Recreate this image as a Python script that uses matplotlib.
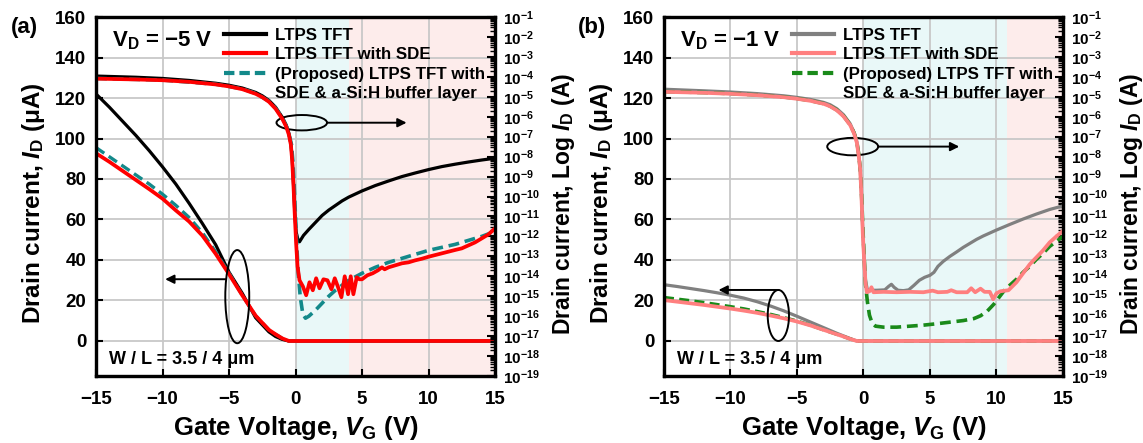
import numpy as np
import matplotlib
matplotlib.use("Agg")
import matplotlib.pyplot as plt
from matplotlib.lines import Line2D
from matplotlib.patches import Ellipse
from matplotlib.ticker import LogLocator, NullFormatter

plt.rcParams['font.family'] = 'Liberation Sans'
plt.rcParams['font.weight'] = 'bold'
plt.rcParams['axes.labelweight'] = 'bold'
plt.rcParams['mathtext.fontset'] = 'custom'
plt.rcParams['mathtext.rm'] = 'Liberation Sans:bold'
plt.rcParams['mathtext.it'] = 'Liberation Sans:italic:bold'
plt.rcParams['mathtext.bf'] = 'Liberation Sans:bold'
plt.rcParams['mathtext.default'] = 'rm'

# gate voltage grid for the linear-scale curves (both panels)
vg_lin = [-15, -14, -13, -12, -11, -10, -9, -8, -7, -6, -5, -4, -3, -2, -1.5, -1, -0.5, 15]

# ---------------- (a) V_D = -5 V ----------------
a_tft_lin = [122, 115.5, 108.5, 101.5, 94, 86, 77.5, 68, 58, 47.5, 34, 23.5, 11.5, 4.5, 2.2, 0.8, 0, 0]
a_sde_lin = [92.7, 88.5, 84, 79.5, 75, 70.3, 64.5, 59, 52, 43, 33, 22.5, 12.5, 5.5, 3.3, 1.3, 0, 0]
a_buf_lin = [95.5, 91, 86.5, 82, 77.5, 72.5, 67, 61, 53.5, 44, 33.5, 22.5, 12.5, 5.5, 3.3, 1.3, 0, 0]

# log10 of drain current (A)
a_tft_vg = [-15, -12, -10, -8, -6, -5, -4, -3, -2.5, -2, -1.5, -1, -0.7, -0.5, -0.35, -0.25,
            -0.15, -0.05, 0.05, 0.2, 0.3, 0.6, 1, 1.5, 2, 2.5, 3, 3.5, 4, 5, 6, 7, 8, 9, 10,
            11, 12, 13, 14, 15]
a_tft_log = [-3.96, -4.02, -4.08, -4.18, -4.32, -4.42, -4.56, -4.78, -4.95, -5.18, -5.52, -6.02,
             -6.42, -6.82, -7.35, -8.1, -9.4, -10.9, -11.8, -12.2, -12.27, -11.95, -11.65, -11.3,
             -10.95, -10.68, -10.45, -10.22, -10.03, -9.72, -9.45, -9.22, -9.0, -8.82, -8.65,
             -8.5, -8.38, -8.27, -8.17, -8.08]

a_sde_vg = [-15, -12, -10, -8, -6, -5, -4, -3, -2.5, -2, -1.5, -1, -0.7, -0.5, -0.35, -0.25,
            -0.15, -0.05, 0.05, 0.15, 0.3, 0.55, 0.8, 1.05, 1.3, 1.55, 1.8, 2.1, 2.4, 2.7,
            2.95, 3.2, 3.45, 3.7, 3.95, 4.15, 4.35, 4.6, 4.8, 5.0, 5.4, 5.8, 6.2, 6.5, 6.7, 7,
            7.5, 8, 8.5, 9, 9.5, 10, 11, 12, 12.5, 13, 13.5, 14, 14.5, 15]
a_sde_log = [-4.09, -4.13, -4.17, -4.25, -4.38, -4.48, -4.62, -4.85, -5.02, -5.25, -5.6, -6.1,
             -6.5, -6.9, -7.4, -8.2, -9.5, -11.0, -12.4, -13.5, -14.2, -14.5, -14.95, -14.3,
             -14.7, -14.1, -14.6, -14.15, -14.2, -14.65, -14.1, -14.55, -15.05, -14.0, -14.9,
             -14.0, -14.9, -14.05, -14.15, -14.15, -13.95, -13.85, -13.7, -13.55, -13.65,
             -13.55, -13.45, -13.35, -13.3, -13.2, -13.12, -13.02, -12.85, -12.68, -12.6,
             -12.45, -12.3, -12.1, -11.9, -11.6]

a_buf_vg = [-15, -10, -6, -4, -3, -2, -1.5, -1, -0.7, -0.5, -0.3, -0.2, -0.1, 0, 0.1, 0.2,
            0.35, 0.55, 0.75, 1.0, 1.5, 2, 2.5, 3, 3.5, 4, 5, 6, 7, 8, 9, 10, 11, 12, 13, 14, 15]
a_buf_log = [-4.08, -4.16, -4.37, -4.6, -4.83, -5.22, -5.57, -6.05, -6.45, -6.85, -7.4, -8.2,
             -9.5, -11.0, -12.5, -13.8, -15.0, -15.9, -16.1, -16.0, -15.7, -15.35, -15.0, -14.7,
             -14.45, -14.2, -13.85, -13.55, -13.3, -13.1, -12.9, -12.7, -12.55, -12.4, -12.2,
             -12.0, -11.75]

# ---------------- (b) V_D = -1 V ----------------
b_tft_lin = [27.8, 26.9, 25.9, 24.9, 23.8, 22.6, 21.2, 19.4, 17.3, 14.9, 12.2, 9.4, 6.6, 3.8, 2.5, 1.2, 0, 0]
b_sde_lin = [20.2, 19.4, 18.6, 17.8, 16.9, 16.0, 15.0, 13.9, 12.6, 11.2, 9.6, 7.7, 5.5, 3.3, 2.2, 1.0, 0, 0]
b_buf_lin = [21.5, 20.7, 19.9, 19.0, 18.0, 17.0, 15.9, 14.6, 13.2, 11.6, 9.9, 7.8, 5.5, 3.3, 2.2, 1.0, 0, 0]

b_tft_vg = [-15, -12, -10, -8, -6, -5, -4, -3, -2.5, -2, -1.5, -1, -0.7, -0.5, -0.35, -0.25,
            -0.15, -0.05, 0.05, 0.15, 0.3, 1.0, 1.6, 1.9, 2.1, 2.3, 2.6, 3.0, 3.4, 3.8, 4.2, 4.6,
            5.0, 5.3, 5.6, 6, 6.5, 7, 7.5, 8, 8.5, 9, 10, 11, 12, 13, 14, 15]
b_tft_log = [-4.62, -4.7, -4.76, -4.84, -4.95, -5.03, -5.13, -5.28, -5.4, -5.6, -5.9, -6.35,
             -6.8, -7.25, -7.95, -8.6, -9.9, -11.8, -13.0, -14.2, -14.7, -14.7, -14.68, -14.5,
             -14.4, -14.55, -14.7, -14.72, -14.68, -14.45, -14.2, -14.05, -13.95, -13.8, -13.5,
             -13.25, -13.0, -12.78, -12.55, -12.35, -12.15, -11.98, -11.68, -11.4, -11.13,
             -10.88, -10.65, -10.47]

b_sde_vg = [-15, -12, -10, -8, -6, -5, -4, -3, -2.5, -2, -1.5, -1, -0.7, -0.5, -0.35, -0.25,
            -0.15, -0.05, 0.05, 0.15, 0.25, 0.45, 0.6, 0.75, 1.5, 2.5, 3.5, 4.5, 5.2, 5.6, 6.3,
            6.6, 7, 7.8, 8.1, 8.4, 8.8, 9.1, 9.5, 9.75, 10.0, 10.3, 10.9, 11.5, 12, 12.5, 13,
            13.5, 14, 14.5, 15]
b_sde_log = [-4.75, -4.8, -4.85, -4.92, -5.02, -5.1, -5.2, -5.35, -5.48, -5.68, -5.98, -6.42,
             -6.85, -7.3, -8.0, -8.6, -10.0, -11.9, -13.2, -14.3, -14.8, -14.75, -14.55, -14.8,
             -14.78, -14.8, -14.78, -14.8, -14.72, -14.8, -14.78, -14.7, -14.8, -14.8, -14.6,
             -14.8, -14.62, -14.78, -14.78, -15.15, -14.85, -14.75, -14.7, -14.3, -13.85,
             -13.4, -13.05, -12.7, -12.3, -12.0, -11.72]

b_buf_vg = [-15, -12, -10, -8, -6, -5, -4, -3, -2.5, -2, -1.5, -1, -0.7, -0.5, -0.35, -0.25,
            -0.15, -0.05, 0.05, 0.15, 0.3, 0.45, 0.65, 0.9, 1.5, 2.5, 3.5, 4.5, 5.5, 6.5, 7.5,
            8.3, 8.8, 9.3, 9.8, 10.2, 10.6, 11, 11.5, 12, 12.5, 13, 13.5, 14, 14.5, 15]
b_buf_log = [-4.74, -4.79, -4.84, -4.91, -5.01, -5.09, -5.19, -5.34, -5.47, -5.66, -5.96, -6.4,
             -6.82, -7.25, -7.9, -8.6, -9.8, -11.5, -13.0, -14.4, -15.3, -15.95, -16.35, -16.5,
             -16.55, -16.55, -16.5, -16.45, -16.38, -16.3, -16.22, -16.12, -15.98, -15.75, -15.4,
             -15.05, -14.7, -14.45, -14.15, -13.8, -13.5, -13.15, -12.85, -12.5, -12.25, -12.0]

log_exps = list(range(-19, 0))
legend_labels = ['LTPS TFT', 'LTPS TFT with SDE', '(Proposed) LTPS TFT with',
                 'SDE & a-Si:H buffer layer']

GRID = '#c8c8c8'
CYAN = '#e9f8f8'
PINK = '#fdeceb'


def draw_panel(rect, tag, vd_text, colors, lin, logs, spans, ell_r, arr_r, ell_l, arr_l):
    ax = fig.add_axes(rect)
    tw = ax.twinx()

    c_tft, c_sde, c_buf = colors
    (x0, x1, x2) = spans
    ax.axvspan(x0, x1, color=CYAN, lw=0, zorder=0.5)
    ax.axvspan(x1, x2, color=PINK, lw=0, zorder=0.5)

    tft_lin, sde_lin, buf_lin = lin
    ax.plot(vg_lin, tft_lin, color=c_tft, lw=2.3)
    ax.plot(vg_lin, buf_lin, color=c_buf, lw=2.4, ls=(0, (3, 1.6)))
    ax.plot(vg_lin, sde_lin, color=c_sde, lw=2.7)

    (tv, tl), (sv, sl), (bv, bl) = logs
    tw.plot(tv, 10.0 ** np.array(tl), color=c_tft, lw=2.3)
    tw.plot(bv, 10.0 ** np.array(bl), color=c_buf, lw=2.6, ls=(0, (3, 1.6)))
    tw.plot(sv, 10.0 ** np.array(sl), color=c_sde, lw=2.7)

    ax.set_xlim(-15, 15)
    ax.set_ylim(-17.3, 160)
    ax.set_xticks([-15, -10, -5, 0, 5, 10, 15])
    ax.set_yticks(range(0, 161, 20))
    ax.grid(True, color=GRID, lw=1.3)
    ax.tick_params(direction='in', length=5, width=1.5, labelsize=13.5, pad=7)
    ax.tick_params(axis='x', pad=11)

    tw.set_yscale('log')
    tw.set_ylim(1e-19, 1e-1)
    tw.set_yticks([10.0 ** e for e in log_exps])
    tw.set_yticklabels(['10$^{%s}$' % ('\u2212%d' % -e) for e in log_exps])
    tw.yaxis.set_minor_locator(LogLocator(base=10, subs=np.arange(2, 10), numticks=200))
    tw.yaxis.set_minor_formatter(NullFormatter())
    tw.tick_params(axis='y', which='major', direction='in', length=6, width=1.5,
                   labelsize=11, pad=6)
    tw.tick_params(axis='y', which='minor', direction='in', length=3.5, width=1)

    for a in (ax, tw):
        for s in a.spines.values():
            s.set_linewidth(2.3)

    ax.set_xlabel('Gate Voltage, $\\mathit{V}_\\mathrm{G}$ (V)', fontsize=18.5)
    ax.set_ylabel('Drain current, $\\mathit{I}_\\mathrm{D}$ (μA)', fontsize=17.5)
    tw.set_ylabel('Drain current, Log $\\mathit{I}_\\mathrm{D}$ (A)', fontsize=16.5,
                  rotation=90)
    ax.xaxis.set_label_coords(0.5, -0.105)
    ax.yaxis.set_label_coords(-0.123, 0.48)
    tw.yaxis.set_label_coords(1.138, 0.48)

    handles = [Line2D([], [], color=c_tft, lw=3),
               Line2D([], [], color=c_sde, lw=3),
               Line2D([], [], color=c_buf, lw=3, ls=(0, (2.5, 1.2))),
               Line2D([], [], color='none')]
    tw.legend(handles, legend_labels, loc='upper left', bbox_to_anchor=(0.3125, 0.979),
              borderaxespad=0, borderpad=0.2, frameon=False, handlelength=2.5,
              handletextpad=0.5, labelspacing=0.26, prop={'weight': 'bold', 'size': 12.2})

    ax.text(0.039, 0.935, vd_text, transform=ax.transAxes, fontsize=16, va='center')
    ax.text(0.033, 0.045, 'W / L = 3.5 / 4 μm', transform=ax.transAxes, fontsize=13,
            va='center')

    # ellipse + arrow pointing to the log axis
    (ex, ey, ew, eh) = ell_r
    ax.add_patch(Ellipse((ex, ey), ew, eh, fill=False, lw=1.4, ec='k', zorder=5))
    ax.annotate('', xy=arr_r[1], xytext=arr_r[0],
                arrowprops=dict(arrowstyle='-|>', color='k', lw=1.4, mutation_scale=13,
                                shrinkA=0, shrinkB=0))
    # ellipse + arrow pointing to the linear axis
    (ex, ey, ew, eh) = ell_l
    ax.add_patch(Ellipse((ex, ey), ew, eh, fill=False, lw=1.4, ec='k', zorder=5))
    ax.annotate('', xy=arr_l[1], xytext=arr_l[0],
                arrowprops=dict(arrowstyle='-|>', color='k', lw=1.4, mutation_scale=13,
                                shrinkA=0, shrinkB=0))

    fig.text(rect[0] - 0.063, 0.937, tag, fontsize=16, va='center', ha='center')
    return ax, tw


fig = plt.figure(figsize=(11.43, 4.43), dpi=100)

draw_panel([0.0840, 0.1512, 0.3491, 0.8104], '(a)', 'V$_\\mathrm{D}$ = \u22125 V',
           ('black', '#ff0000', '#13898a'),
           (a_tft_lin, a_sde_lin, a_buf_lin),
           ((a_tft_vg, a_tft_log), (a_sde_vg, a_sde_log), (a_buf_vg, a_buf_log)),
           (0, 4, 15),
           (0.47, 107.8, 3.8, 7.6), ((2.37, 107.8), (8.35, 107.8)),
           (-4.38, 21.9, 1.8, 46), ((-5.25, 30.5), (-9.8, 30.5)))

draw_panel([0.5809, 0.1512, 0.3491, 0.8104], '(b)', 'V$_\\mathrm{D}$ = \u22121 V',
           ('#808080', '#ff7f7f', '#1a8a1a'),
           (b_tft_lin, b_sde_lin, b_buf_lin),
           ((b_tft_vg, b_tft_log), (b_sde_vg, b_sde_log), (b_buf_vg, b_buf_log)),
           (0, 10.8, 15),
           (-0.81, 96, 3.83, 8.6), ((1.11, 96), (7.2, 96)),
           (-6.4, 12.6, 1.6, 25.2), ((-6.4, 25.2), (-10.9, 25.2)))

fig.savefig('out.png', dpi=100)
